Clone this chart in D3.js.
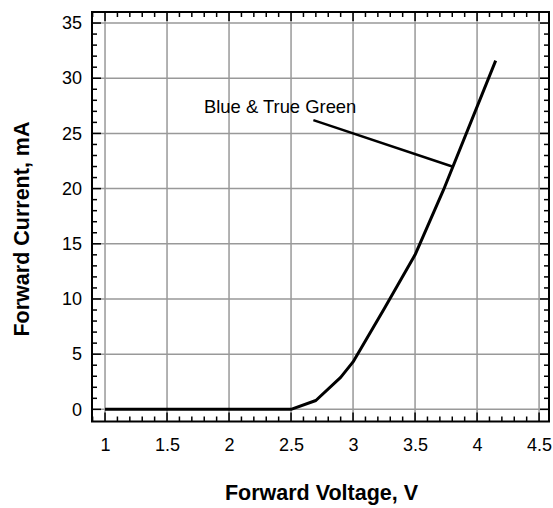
<!DOCTYPE html>
<html>
<head>
<meta charset="utf-8">
<script src="https://cdn.jsdelivr.net/npm/d3@7"></script>
<style>
  html, body { margin: 0; padding: 0; background: #fff; }
  svg { display: block; }
  text { font-family: "Liberation Sans", Arial, Helvetica, sans-serif; fill: #000; }
</style>
</head>
<body>
<svg id="chart" width="553" height="508"></svg>
<script>
// ---- data ----
const voltage = [1, 2.5, 2.7, 2.9, 3.0, 3.25, 3.5, 3.73, 4.15];
const current = [0, 0, 0.8, 2.9, 4.3, 9.1, 14.0, 19.9, 31.6];
const xTickValues = [1, 1.5, 2, 2.5, 3, 3.5, 4, 4.5];
const xTickLabels = ["1", "1.5", "2", "2.5", "3", "3.5", "4", "4.5"];
const yTickValues = [0, 5, 10, 15, 20, 25, 30, 35];
const yTickLabels = ["0", "5", "10", "15", "20", "25", "30", "35"];
const seriesLabel = "Blue & True Green";
const labelAnchor = [2.68, 26.2];   // start of leader line (data units)
const labelTarget = [3.80, 22.0];   // point on curve (data units)
const xTitle = "Forward Voltage, V";
const yTitle = "Forward Current, mA";

// ---- layout ----
const svg = d3.select("#chart");
const L = 92, R = 549, T = 12, B = 421.5;
const x = d3.scaleLinear().domain([0.895, 4.58]).range([L, R]);
const y = d3.scaleLinear().domain([-1.1, 36.0]).range([B, T]);
const FONT = '"Liberation Sans", Arial, Helvetica, sans-serif';

// gridlines
const grid = svg.append("g").attr("stroke", "#999").attr("stroke-width", 1.5);
grid.selectAll("line.vx").data(xTickValues).join("line")
  .attr("x1", d => x(d)).attr("x2", d => x(d)).attr("y1", T).attr("y2", B);
grid.selectAll("line.hy").data(yTickValues).join("line")
  .attr("x1", L).attr("x2", R).attr("y1", d => y(d)).attr("y2", d => y(d));

// minor/major ticks (inward) on all four sides
const xMinor = d3.range(9, 46).map(v => v / 10);
const yMinor = d3.range(0, 36);
const isMajorX = v => Math.abs(v * 2 - Math.round(v * 2)) < 1e-6;
const isMajorY = v => v % 5 === 0;
const tk = svg.append("g").attr("stroke", "#000").attr("stroke-width", 1.5);
xMinor.forEach(v => {
  const len = isMajorX(v) ? 9 : 5;
  tk.append("line").attr("x1", x(v)).attr("x2", x(v)).attr("y1", B).attr("y2", B - len);
  tk.append("line").attr("x1", x(v)).attr("x2", x(v)).attr("y1", T).attr("y2", T + len);
});
yMinor.forEach(v => {
  const len = isMajorY(v) ? 9 : 5;
  tk.append("line").attr("x1", L).attr("x2", L + len).attr("y1", y(v)).attr("y2", y(v));
  tk.append("line").attr("x1", R).attr("x2", R - len).attr("y1", y(v)).attr("y2", y(v));
});

// frame
svg.append("rect").attr("x", L).attr("y", T).attr("width", R - L).attr("height", B - T)
  .attr("fill", "none").attr("stroke", "#000").attr("stroke-width", 2);

// tick labels via axes (tick lines hidden)
const xAxis = d3.axisBottom(x).tickValues(xTickValues)
  .tickFormat((d, i) => xTickLabels[i]).tickSize(0).tickPadding(17);
const gx = svg.append("g").attr("transform", `translate(0,${B})`).call(xAxis);
gx.select(".domain").remove();
gx.selectAll("text").style("font-size", "18px").style("font-family", FONT).attr("fill", "#000");

const yAxis = d3.axisLeft(y).tickValues(yTickValues)
  .tickFormat((d, i) => yTickLabels[i]).tickSize(0).tickPadding(10);
const gy = svg.append("g").attr("transform", `translate(${L},0)`).call(yAxis);
gy.select(".domain").remove();
gy.selectAll("text").style("font-size", "18px").style("font-family", FONT).attr("fill", "#000");

// curve
const line = d3.line().x((d, i) => x(voltage[i])).y((d, i) => y(current[i]));
svg.append("path").datum(voltage).attr("d", line)
  .attr("fill", "none").attr("stroke", "#000").attr("stroke-width", 3)
  .attr("stroke-linejoin", "round");

// annotation
svg.append("line")
  .attr("x1", x(labelAnchor[0])).attr("y1", y(labelAnchor[1]))
  .attr("x2", x(labelTarget[0])).attr("y2", y(labelTarget[1]))
  .attr("stroke", "#000").attr("stroke-width", 2.5);
svg.append("text").attr("x", 204).attr("y", 112.5)
  .style("font-size", "18.4px").text(seriesLabel);

// titles
svg.append("text").attr("x", 321.5).attr("y", 500)
  .attr("text-anchor", "middle").style("font-size", "21.5px").style("font-weight", "bold")
  .text(xTitle);
svg.append("text").attr("transform", `translate(28.5,229) rotate(-90)`)
  .attr("text-anchor", "middle").style("font-size", "21.5px").style("font-weight", "bold")
  .text(yTitle);
</script>
</body>
</html>
